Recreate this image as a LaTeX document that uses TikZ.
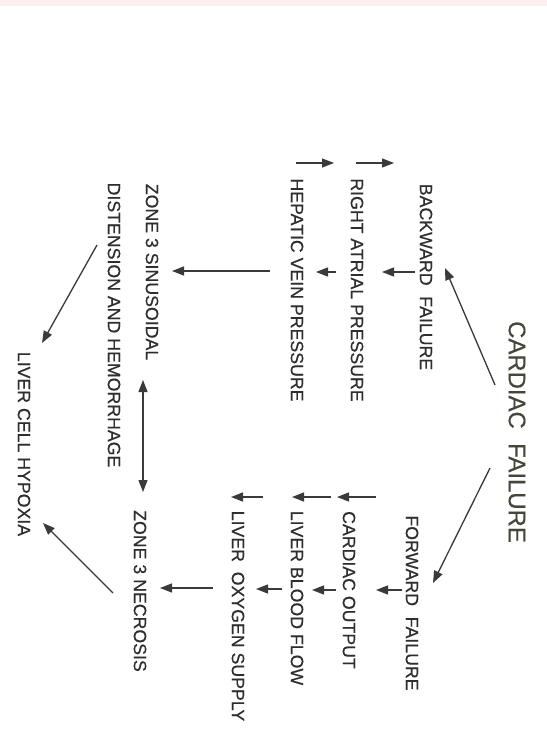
\documentclass[tikz,border=0pt]{standalone}
\usepackage{fontspec}
\setmainfont{Liberation Sans}
\newfontfamily\scanfont{Liberation Sans}[FakeBold=0.4]
\usetikzlibrary{arrows.meta}
\definecolor{ink}{HTML}{2E2E2E}
\definecolor{lineink}{HTML}{3A3A3A}
\definecolor{titleink}{HTML}{45463A}
\definecolor{edgepink}{HTML}{FCEFEF}
\begin{document}
\begin{tikzpicture}[x=1bp,y=-1bp,
  lbl/.style={rotate=-90, inner sep=0pt, text=ink, font=\scanfont\fontsize{17.8}{20}\selectfont},
  ttl/.style={rotate=-90, inner sep=0pt, text=titleink, font=\scanfont\fontsize{24}{28}\selectfont},
  arr/.style={draw=lineink, line width=1.3bp, -{Triangle[length=12bp,width=9bp]}},
  darr/.style={draw=lineink, line width=1.3bp, {Triangle[length=12bp,width=9bp]}-{Triangle[length=12bp,width=9bp]}}]
\useasboundingbox (0,0) rectangle (547,734);
\fill[white] (0,0) rectangle (547,734);
\fill[edgepink] (0,0) rectangle (547,6);

% labels
\node[ttl] (cf) at (517,432) {CARDIAC\hspace{0.6em}FAILURE};
\node[lbl] (bf) at (426,277) {BACKWARD\hspace{0.6em}FAILURE};
\node[lbl] (rap) at (357,290) {RIGHT ATRIAL PRESSURE};
\node[lbl] (hvp) at (297,290) {HEPATIC VEIN PRESSURE};
\node[lbl] (zs) at (152,272) {ZONE 3 SINUSOIDAL};
\node[lbl] (dah) at (114,325) {DISTENSION AND HEMORRHAGE};
\node[lbl] (lch) at (24,444) {LIVER CELL HYPOXIA};
\node[lbl] (ff) at (412,603) {FORWARD\hspace{0.6em}FAILURE};
\node[lbl] (co) at (349,590) {CARDIAC OUTPUT};
\node[lbl] (lbf) at (297,598) {LIVER BLOOD FLOW};
\node[lbl] (los) at (238,616) {LIVER\hspace{0.55em}OXYGEN SUPPLY};
\node[lbl] (zn) at (140,591) {ZONE 3 NECROSIS};

% connector end points
\coordinate (cfb) at (495,385);
\coordinate (bfa) at (445,268);
\coordinate (cff) at (490,468);
\coordinate (ffa) at (433,583);
\coordinate (bfo) at (415,272);
\coordinate (rapi) at (382,272);
\coordinate (rapo) at (336,272);
\coordinate (hvpi) at (316,272);
\coordinate (hvpo) at (270,271);
\coordinate (zsi) at (172,271);
\coordinate (ffo) at (402,590);
\coordinate (coi) at (376,590);
\coordinate (coo) at (336,590);
\coordinate (lbfi) at (312,590);
\coordinate (lbfo) at (282,589);
\coordinate (losi) at (256,589);
\coordinate (loso) at (213,588);
\coordinate (zni) at (160,588);
\coordinate (zsd) at (143,380);
\coordinate (znu) at (143,492);
\coordinate (daho) at (97,245);
\coordinate (lcha) at (42,343);
\coordinate (zno) at (113,593);
\coordinate (lchb) at (43,523);
% up / down marks
\coordinate (rapu0) at (356,163);
\coordinate (rapu1) at (394,163);
\coordinate (hvpu0) at (296,163);
\coordinate (hvpu1) at (334,163);
\coordinate (cod0) at (376,497);
\coordinate (cod1) at (337,497);
\coordinate (lbfd0) at (331,497);
\coordinate (lbfd1) at (292,497);
\coordinate (losd0) at (263,497);
\coordinate (losd1) at (231,497);

% connectors
\draw[arr] (cfb) -- (bfa);
\draw[arr] (cff) -- (ffa);
\draw[arr] (bfo) -- (rapi);
\draw[arr] (rapo) -- (hvpi);
\draw[arr] (hvpo) -- (zsi);
\draw[arr] (ffo) -- (coi);
\draw[arr] (coo) -- (lbfi);
\draw[arr] (lbfo) -- (losi);
\draw[arr] (loso) -- (zni);
\draw[darr] (zsd) -- (znu);
\draw[arr] (daho) -- (lcha);
\draw[arr] (zno) -- (lchb);

\draw[arr] (rapu0) -- (rapu1);
\draw[arr] (hvpu0) -- (hvpu1);
\draw[arr] (cod0) -- (cod1);
\draw[arr] (lbfd0) -- (lbfd1);
\draw[arr] (losd0) -- (losd1);
\end{tikzpicture}
\end{document}
